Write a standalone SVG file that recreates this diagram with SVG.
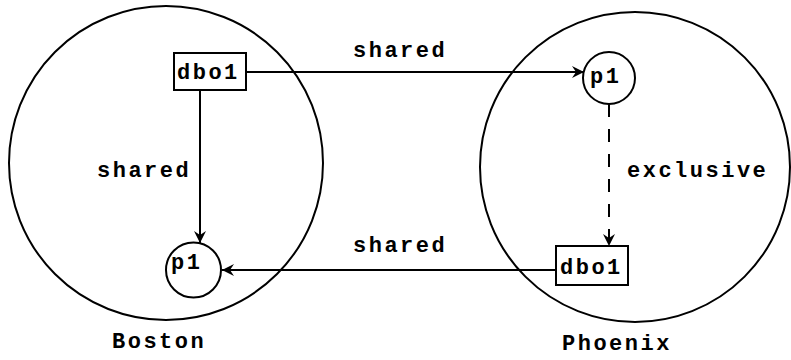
<svg xmlns="http://www.w3.org/2000/svg" width="791" height="360" viewBox="0 0 791 360">
<style>
.site{fill:none;stroke:#000;stroke-width:2}
.node{fill:#fff;stroke:#000;stroke-width:2}
.edge{fill:none;stroke:#000;stroke-width:2}
.dash{stroke-dasharray:13 12}
text{font-family:"Liberation Mono","DejaVu Sans Mono",monospace;font-weight:bold;font-size:22px;fill:#000;letter-spacing:2.5px}
</style>
<defs>
<marker id="arr" markerUnits="userSpaceOnUse" markerWidth="14" markerHeight="14" refX="13" refY="7" orient="auto">
<path d="M1,1 L13,7 L1,13 L5,7 Z" fill="#000"/>
</marker>
</defs>
<g id="boston">
<circle class="site" cx="166" cy="163" r="157"/>
<text x="112" y="348">Boston</text>
</g>
<g id="phoenix">
<circle class="site" cx="635" cy="167" r="155"/>
<text x="562" y="350">Phoenix</text>
</g>
<g id="connectors">
<line class="edge" x1="246" y1="72" x2="584" y2="72" marker-end="url(#arr)"/>
<line class="edge" x1="200" y1="90" x2="200" y2="243" marker-end="url(#arr)"/>
<line class="edge dash" x1="609" y1="104" x2="609" y2="246" marker-end="url(#arr)"/>
<line class="edge" x1="556" y1="270" x2="222" y2="270" marker-end="url(#arr)"/>
<text x="353" y="57">shared</text>
<text x="97" y="177">shared</text>
<text x="353" y="252">shared</text>
<text x="627" y="177">exclusive</text>
</g>
<g id="boston-dbo1">
<rect class="node" x="174" y="53" width="72" height="37"/>
<text x="177" y="79">dbo1</text>
</g>
<g id="boston-p1">
<circle class="node" cx="193.5" cy="270" r="27.5"/>
<text x="171" y="269">p1</text>
</g>
<g id="phoenix-p1">
<circle class="node" cx="609" cy="78" r="26"/>
<text x="590" y="83">p1</text>
</g>
<g id="phoenix-dbo1">
<rect class="node" x="556" y="246" width="72" height="39"/>
<text x="560" y="274">dbo1</text>
</g>
</svg>
